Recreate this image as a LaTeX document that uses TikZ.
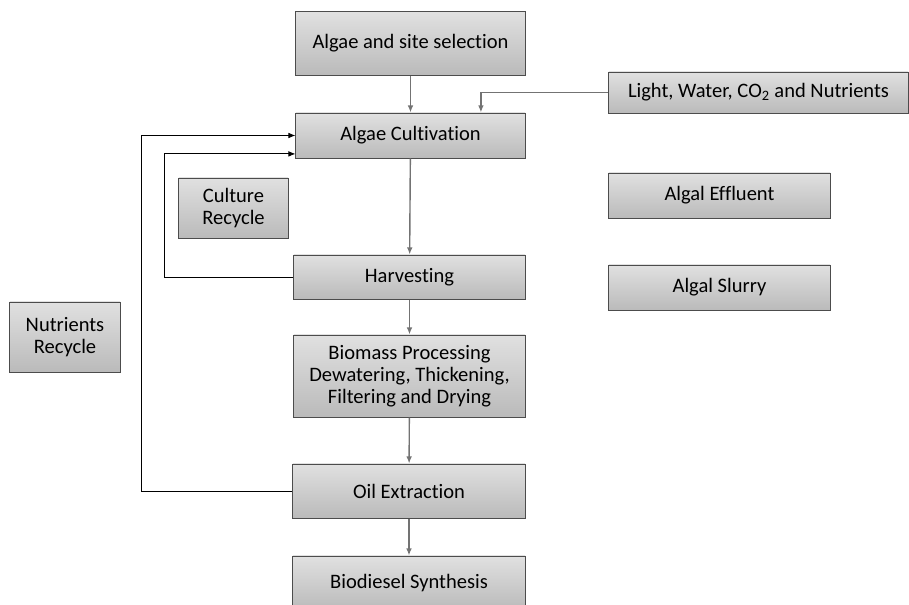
\documentclass[tikz,border=0pt]{standalone}
\usepackage{fontspec}
\setmainfont{Carlito}[Ligatures=NoCommon]
\usepackage{tikz}
\usetikzlibrary{arrows.meta, calc, positioning}

\tikzset{
  stage/.style={draw=black!70, line width=0.7pt, top color=black!12, bottom color=black!27,
    align=center, inner sep=2pt, font=\fontsize{14.6}{15.8}\selectfont},
  flow/.style={draw=black!55, line width=1pt, -{Latex[length=5pt,width=4pt]}},
  loop/.style={draw=black, line width=0.6pt, -{Latex[length=5pt,width=4pt]}}
}

\begin{document}
\begin{tikzpicture}[x=0.025cm, y=-0.025cm]
% Page frame (pixel grid)
\clip (0,0) rectangle (909,605);

% Main line of stages
\node[stage, minimum width=5.725cm, minimum height=1.575cm] (select) at (410.5,43.5) {Algae and site selection};
\node[stage, minimum width=5.725cm, minimum height=1.125cm] (cult) at (410.5,135.5) {Algae Cultivation};
\node[stage, minimum width=5.775cm, minimum height=1.1cm] (harv) at (409.5,277) {Harvesting};
\node[stage, minimum width=5.775cm, minimum height=2.05cm] (biomass) at (409.5,376) {Biomass Processing\\Dewatering, Thickening,\\Filtering and Drying};
\node[stage, minimum width=5.8cm, minimum height=1.35cm] (oil) at (409,491) {Oil Extraction};
\node[stage, minimum width=5.8cm, minimum height=1.35cm] (diesel) at (409,583) {Biodiesel Synthesis};

% Side boxes
\node[stage, minimum width=7.475cm, minimum height=1.025cm] (light) at (758.5,92.5) {Light, Water, CO\textsubscript{2} and Nutrients};
\node[stage, minimum width=2.725cm, minimum height=1.5cm] (culture) at (233.5,208) {Culture\\Recycle};
\node[stage, minimum width=2.75cm, minimum height=1.75cm] (nutrients) at (65,337) {Nutrients\\Recycle};
\node[stage, minimum width=5.525cm, minimum height=1.125cm] (effluent) at (719.5,195.5) {Algal Effluent};
\node[stage, minimum width=5.525cm, minimum height=1.125cm] (slurry) at (719.5,287.5) {Algal Slurry};

% Forward arrows
\draw[flow] (select) -- (cult);
\draw[flow] (cult) -- (harv);
\draw[flow] (harv) -- (biomass);
\draw[flow] (biomass) -- (oil);
\draw[flow] (oil) -- (diesel);
\draw[flow] (light.west) -| ([xshift=1.76cm]cult.north);

% Recycle loops
\draw[loop] (harv.west) -- ++(-129,0) |- ([yshift=-0.46cm]cult.west);
\draw[loop] (oil.west) -- ++(-151,0) |- (cult.west);
\end{tikzpicture}
\end{document}
